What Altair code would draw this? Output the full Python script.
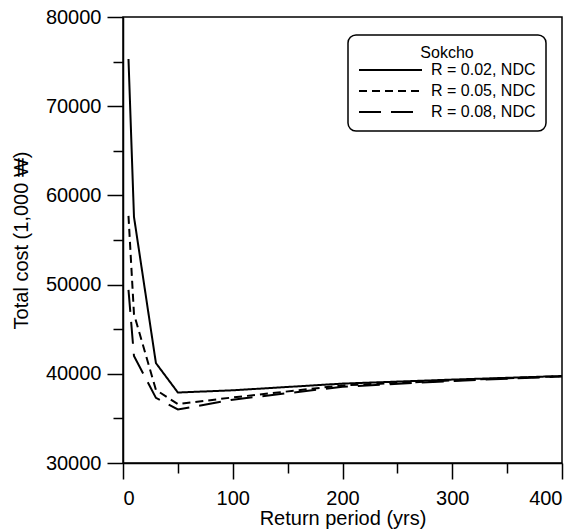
import altair as alt
import pandas as pd

# Return periods (years) at which total cost was evaluated
return_period = [5, 10, 30, 50, 100, 200, 300, 400]

# Total cost (1,000 won) for each discount rate
cost_r002 = [75300, 57600, 41200, 37900, 38150, 38900, 39350, 39750]
cost_r005 = [57700, 46700, 38200, 36600, 37350, 38700, 39250, 39750]
cost_r008 = [49400, 42000, 37300, 36000, 37100, 38550, 39200, 39700]

series_labels = ["R = 0.02, NDC", "R = 0.05, NDC", "R = 0.08, NDC"]
dash_patterns = [[1, 0], [8, 5], [22, 10]]

x_major = [0, 100, 200, 300, 400]
x_minor = [50, 150, 250, 350]
y_major = [30000, 40000, 50000, 60000, 70000, 80000]
y_minor = [35000, 45000, 55000, 65000, 75000]

FONT = "Liberation Sans"

rows = []
for label, costs in zip(series_labels, [cost_r002, cost_r005, cost_r008]):
    for p, c in zip(return_period, costs):
        rows.append({"period": p, "cost": c, "series": label})
df = pd.DataFrame(rows)

x_scale = alt.Scale(domain=[0, 400], nice=False, zero=False)
y_scale = alt.Scale(domain=[30000, 80000], nice=False, zero=False)

lines = alt.Chart(df).mark_line(color="black", strokeWidth=2).encode(
    x=alt.X(
        "period:Q",
        scale=x_scale,
        axis=alt.Axis(
            values=x_major, tickSize=16, labelPadding=9, format="d",
            title="Return period (yrs)", titlePadding=0, orient="bottom",
        ),
    ),
    y=alt.Y(
        "cost:Q",
        scale=y_scale,
        axis=alt.Axis(
            values=y_major, tickSize=16, labelPadding=6, format="d",
            title="Total cost (1,000 ₩)", titlePadding=14, orient="left",
        ),
    ),
    strokeDash=alt.StrokeDash(
        "series:N",
        scale=alt.Scale(domain=series_labels, range=dash_patterns),
        legend=alt.Legend(
            title="Sokcho",
            orient="none",
            legendX=225,
            legendY=18,
            direction="vertical",
            titleFont=FONT,
            titleFontSize=16,
            titleFontWeight="normal",
            titleColor="black",
            titleAnchor="middle",
            titlePadding=0,
            labelFont=FONT,
            labelFontSize=16,
            labelColor="black",
            labelOffset=8,
            symbolType="stroke",
            symbolSize=3969,
            symbolStrokeWidth=2,
            symbolStrokeColor="black",
            clipHeight=18,
            rowPadding=3,
            padding=10,
            strokeColor="black",
            fillColor="white",
            cornerRadius=8,
        ),
    ),
)

# Minor ticks on both axes, carried by an invisible layer
minor = alt.Chart(df).mark_point(opacity=0).encode(
    x=alt.X(
        "period:Q",
        scale=x_scale,
        axis=alt.Axis(values=x_minor, tickSize=10, labels=False, domain=False,
                      title="", orient="bottom"),
    ),
    y=alt.Y(
        "cost:Q",
        scale=y_scale,
        axis=alt.Axis(values=y_minor, tickSize=10, labels=False, domain=False,
                      title="", orient="left"),
    ),
)

chart = (
    alt.layer(lines, minor)
    .resolve_axis(x="independent", y="independent")
    .properties(
        width=439,
        height=446,
        autosize="none",
        padding={"left": 123, "top": 17, "right": 22, "bottom": 67},
        background="white",
    )
    .configure_view(stroke="black", strokeWidth=1.5)
    .configure_axis(
        grid=False,
        domainColor="black",
        domainWidth=1.5,
        tickColor="black",
        tickWidth=1.5,
        labelFont=FONT,
        labelFontSize=20,
        labelColor="black",
        titleFont=FONT,
        titleFontSize=20,
        titleFontWeight="normal",
        titleColor="black",
    )
    .configure_legend(strokeWidth=1.5)
)

chart.save("out.html", embed_options={"renderer": "svg", "actions": False})
